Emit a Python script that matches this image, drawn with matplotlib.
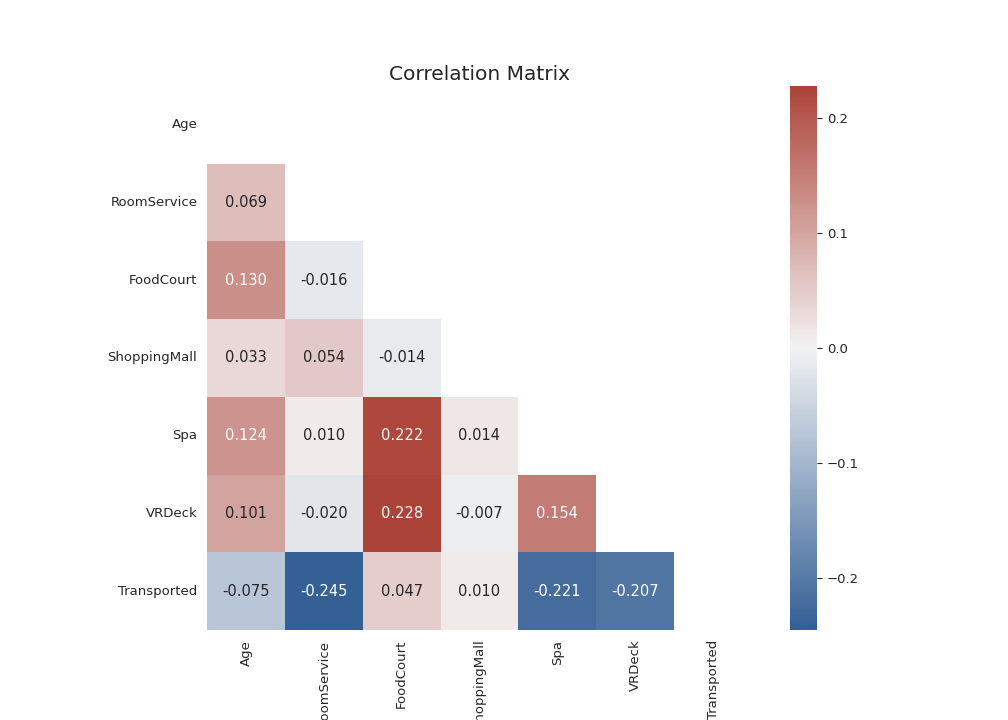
import numpy as np
import pandas as pd
import matplotlib
matplotlib.use("Agg")
import matplotlib.pyplot as plt
import seaborn as sns

cols = ["Age", "RoomService", "FoodCourt", "ShoppingMall", "Spa", "VRDeck", "Transported"]

# lower triangle of the correlation matrix, row by row
lower = [
    [],
    [0.069],
    [0.130, -0.016],
    [0.033, 0.054, -0.014],
    [0.124, 0.010, 0.222, 0.014],
    [0.101, -0.020, 0.228, -0.007, 0.154],
    [-0.075, -0.245, 0.047, 0.010, -0.221, -0.207],
]

n = len(cols)
corr = np.eye(n)
for i, row in enumerate(lower):
    for j, v in enumerate(row):
        corr[i, j] = v
        corr[j, i] = v
corr = pd.DataFrame(corr, index=cols, columns=cols)

sns.set_style("white")

fig = plt.figure(figsize=(10.08, 7.2), dpi=100)
ax = fig.add_axes([207 / 1008, 90 / 720, 545 / 1008, 544 / 720])
cax = fig.add_axes([790 / 1008, 90 / 720, 27 / 1008, 544 / 720])

mask = np.triu(np.ones_like(corr, dtype=bool))
cmap = sns.diverging_palette(250, 15, s=75, l=40, center="light", as_cmap=True)

sns.heatmap(corr, mask=mask, cmap=cmap, annot=True, fmt=".3f", center=0,
            ax=ax, cbar_ax=cax, annot_kws={"size": 10.5})
ax.set_title("Correlation Matrix", fontsize=14.5, pad=4)
ax.tick_params(labelsize=9.5)
cax.tick_params(labelsize=9.5)

fig.savefig("out.png", dpi=100)
